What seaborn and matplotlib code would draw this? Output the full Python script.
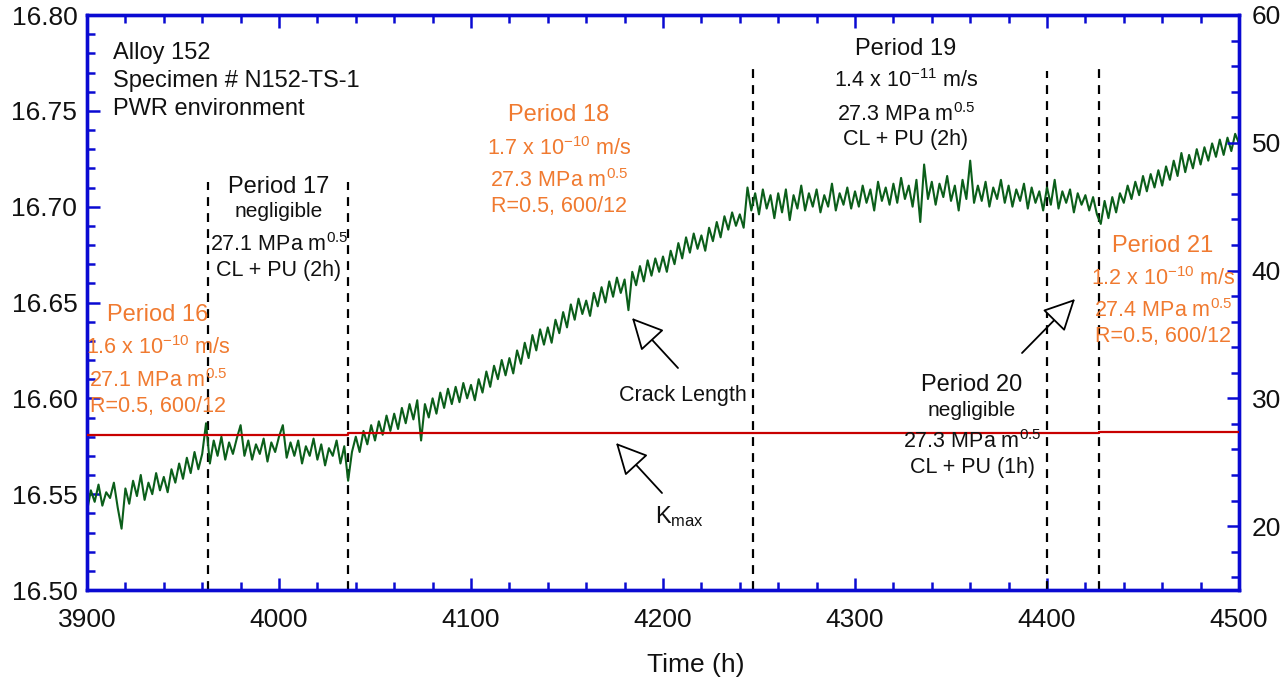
import numpy as np
import pandas as pd
import matplotlib
matplotlib.use("Agg")
import matplotlib.pyplot as plt
import seaborn as sns

# ---------------- data ----------------
time_h = list(range(3900, 4501, 2))
crack_mm = [
    16.541, 16.552, 16.546, 16.555, 16.544, 16.551, 16.548, 16.556, 16.543, 16.532,
    16.553, 16.545, 16.557, 16.549, 16.560, 16.547, 16.556, 16.550, 16.561, 16.552,
    16.559, 16.551, 16.563, 16.556, 16.566, 16.558, 16.569, 16.561, 16.572, 16.563,
    16.571, 16.587, 16.566, 16.578, 16.570, 16.580, 16.568, 16.577, 16.571, 16.579,
    16.586, 16.570, 16.578, 16.568, 16.576, 16.571, 16.579, 16.567, 16.577, 16.572,
    16.580, 16.586, 16.569, 16.577, 16.570, 16.578, 16.566, 16.575, 16.570, 16.579,
    16.568, 16.576, 16.565, 16.574, 16.570, 16.578, 16.566, 16.575, 16.557, 16.572,
    16.580, 16.572, 16.583, 16.576, 16.586, 16.578, 16.588, 16.581, 16.591, 16.583,
    16.592, 16.584, 16.595, 16.587, 16.597, 16.589, 16.599, 16.578, 16.597, 16.590,
    16.600, 16.592, 16.603, 16.595, 16.605, 16.597, 16.606, 16.598, 16.608, 16.600,
    16.607, 16.599, 16.610, 16.603, 16.614, 16.606, 16.617, 16.610, 16.620, 16.612,
    16.621, 16.613, 16.625, 16.618, 16.629, 16.621, 16.633, 16.625, 16.636, 16.628,
    16.637, 16.629, 16.641, 16.634, 16.645, 16.637, 16.649, 16.641, 16.652, 16.644,
    16.651, 16.643, 16.655, 16.648, 16.658, 16.650, 16.661, 16.653, 16.663, 16.655,
    16.662, 16.646, 16.666, 16.659, 16.669, 16.661, 16.672, 16.664, 16.673, 16.666,
    16.674, 16.666, 16.677, 16.670, 16.681, 16.673, 16.684, 16.676, 16.686, 16.678,
    16.685, 16.677, 16.689, 16.682, 16.692, 16.684, 16.695, 16.688, 16.697, 16.690,
    16.696, 16.689, 16.710, 16.698, 16.707, 16.696, 16.709, 16.699, 16.706, 16.694,
    16.707, 16.697, 16.709, 16.693, 16.706, 16.699, 16.711, 16.698, 16.707, 16.700,
    16.709, 16.697, 16.706, 16.700, 16.712, 16.698, 16.707, 16.701, 16.710, 16.699,
    16.708, 16.700, 16.711, 16.702, 16.709, 16.698, 16.713, 16.703, 16.710, 16.701,
    16.712, 16.702, 16.715, 16.704, 16.711, 16.700, 16.714, 16.692, 16.722, 16.704,
    16.713, 16.701, 16.712, 16.705, 16.716, 16.703, 16.711, 16.698, 16.714, 16.704,
    16.724, 16.702, 16.711, 16.703, 16.713, 16.700, 16.710, 16.704, 16.714, 16.702,
    16.711, 16.700, 16.709, 16.703, 16.712, 16.699, 16.710, 16.702, 16.708, 16.698,
    16.710, 16.701, 16.714, 16.699, 16.708, 16.702, 16.709, 16.697, 16.707, 16.701,
    16.706, 16.698, 16.705, 16.696, 16.691, 16.703, 16.694, 16.705, 16.697, 16.707,
    16.702, 16.711, 16.704, 16.713, 16.706, 16.716, 16.708, 16.717, 16.710, 16.719,
    16.711, 16.721, 16.714, 16.724, 16.716, 16.728, 16.718, 16.727, 16.720, 16.730,
    16.722, 16.731, 16.724, 16.733, 16.726, 16.735, 16.727, 16.736, 16.729, 16.738,
    16.733,
]
kmax_time = [3900, 3963, 4036, 4247, 4400, 4427, 4500]
kmax_val = [27.1, 27.1, 27.3, 27.3, 27.3, 27.4, 27.4]
period_bounds = [3963, 4036, 4247, 4400, 4427]
bound_tops = [16.713, 16.713, 16.773, 16.771, 16.773]

df_crack = pd.DataFrame({"Time (h)": time_h, "Crack": crack_mm})
df_k = pd.DataFrame({"Time (h)": kmax_time, "Kmax": kmax_val})

# ---------------- style ----------------
sns.set_theme(style="white")
plt.rcParams["font.family"] = ["Liberation Sans", "DejaVu Sans"]
plt.rcParams["mathtext.fontset"] = "custom"
plt.rcParams["mathtext.rm"] = "Liberation Sans"
plt.rcParams["mathtext.it"] = "Liberation Sans:italic"
plt.rcParams["mathtext.bf"] = "Liberation Sans:bold"

BLUE = "#0A0AD2"
GREEN = "#0B5E1A"
RED = "#C80000"
ORANGE = "#F07A30"

W, H = 1285, 680
fig = plt.figure(figsize=(W / 100, H / 100), dpi=100)
L, R, T, B = 87, 1239, 15, 590
ax = fig.add_axes([L / W, 1 - B / H, (R - L) / W, (B - T) / H])
ax2 = ax.twinx()

sns.lineplot(data=df_crack, x="Time (h)", y="Crack", ax=ax, color=GREEN,
             linewidth=1.5, estimator=None, sort=False, zorder=3)
sns.lineplot(data=df_k, x="Time (h)", y="Kmax", ax=ax2, color=RED,
             linewidth=1.6, estimator=None, sort=False, drawstyle="steps-post", zorder=3)

ax.set_xlim(3900, 4500)
ax.set_ylim(16.50, 16.80)
ax2.set_ylim(15, 60)
ax.set_ylabel("")
ax2.set_ylabel("")
ax.set_xlabel("")

for xb, top in zip(period_bounds, bound_tops):
    ax.plot([xb, xb], [16.50, top], color="black", linestyle=(0, (4, 3.2)), linewidth=1.6, zorder=2)

ax.set_xticks(np.arange(3900, 4501, 100))
ax.set_xticks(np.arange(3900, 4501, 20), minor=True)
ax.set_yticks(np.arange(16.50, 16.801, 0.05))
ax.set_yticks(np.arange(16.50, 16.801, 0.01), minor=True)
ax.set_yticklabels([f"{v:.2f}" for v in np.arange(16.50, 16.801, 0.05)])
ax2.set_yticks([20, 30, 40, 50, 60])
ax2.set_yticks(np.arange(16, 61, 2), minor=True)
ax2.set_yticklabels(["20", "30", "40", "50", "60"])

for a in (ax, ax2):
    for s in a.spines.values():
        s.set_color(BLUE)
        s.set_linewidth(2.4)
ax.tick_params(axis="x", which="both", direction="in", top=True, bottom=True, color=BLUE,
               labelsize=19, pad=13, labelcolor="#111111")
ax.tick_params(axis="x", which="major", length=9, width=1.8)
ax.tick_params(axis="x", which="minor", length=6, width=1.8)
ax.tick_params(axis="y", which="both", direction="in", left=True, right=False, color=BLUE,
               labelsize=19, pad=7, labelcolor="#111111")
ax.tick_params(axis="y", which="major", length=9, width=1.8)
ax.tick_params(axis="y", which="minor", length=6, width=1.8)
ax2.tick_params(axis="y", which="both", direction="in", right=True, left=False, color=BLUE,
                labelsize=19, pad=9, labelcolor="#111111")
ax2.tick_params(axis="y", which="major", length=9, width=1.8)
ax2.tick_params(axis="y", which="minor", length=6, width=1.8)

fig.text(696 / W, 1 - 665 / H, "Time (h)", ha="center", va="center", fontsize=19, color="#111111")


def ptxt(x, y, s, color="#111111", size=15.5, ha="center"):
    fig.text(x / W, 1 - y / H, s, ha=ha, va="baseline", fontsize=size, color=color, zorder=10)


# header
ptxt(113, 59, "Alloy 152", size=17, ha="left")
ptxt(113, 87, "Specimen # N152-TS-1", size=17, ha="left")
ptxt(113, 115, "PWR environment", size=17, ha="left")

# Period 16
ptxt(158, 321, "Period 16", ORANGE, 17)
ptxt(158, 354, r"1.6 x 10$^{\mathrm{-10}}$ m/s", ORANGE)
ptxt(158, 387, r"27.1 MPa m$^{\mathrm{0.5}}$", ORANGE)
ptxt(158, 412, "R=0.5, 600/12", ORANGE)
# Period 17
ptxt(279, 193, "Period 17", size=17)
ptxt(279, 217, "negligible", size=15)
ptxt(279, 251, r"27.1 MPa m$^{\mathrm{0.5}}$")
ptxt(279, 276, "CL + PU (2h)")
# Period 18
ptxt(559, 121, "Period 18", ORANGE, 17)
ptxt(559, 155, r"1.7 x 10$^{\mathrm{-10}}$ m/s", ORANGE)
ptxt(559, 187, r"27.3 MPa m$^{\mathrm{0.5}}$", ORANGE)
ptxt(559, 212, "R=0.5, 600/12", ORANGE)
# Period 19
ptxt(906, 55, "Period 19", size=17)
ptxt(906, 87, r"1.4 x 10$^{\mathrm{-11}}$ m/s")
ptxt(906, 121, r"27.3 MPa m$^{\mathrm{0.5}}$")
ptxt(906, 145, "CL + PU (2h)")
# Period 20
ptxt(972, 391, "Period 20", size=17)
ptxt(972, 416, "negligible", size=15)
ptxt(972, 448, r"27.3 MPa m$^{\mathrm{0.5}}$")
ptxt(972, 473, "CL + PU (1h)")
# Period 21
ptxt(1163, 252, "Period 21", ORANGE, 17)
ptxt(1163, 285, r"1.2 x 10$^{\mathrm{-10}}$ m/s", ORANGE)
ptxt(1163, 317, r"27.4 MPa m$^{\mathrm{0.5}}$", ORANGE)
ptxt(1163, 342, "R=0.5, 600/12", ORANGE)

# labels and arrows
ptxt(683, 401, "Crack Length")
ptxt(655, 523, r"K$_{\mathrm{max}}$", size=17, ha="left")


def parrow(x0, y0, x1, y1):
    ax.annotate("", xy=((x1 - L) / (R - L), (B - y1) / (B - T)), xycoords="axes fraction",
                xytext=((x0 - L) / (R - L), (B - y0) / (B - T)), textcoords="axes fraction",
                arrowprops=dict(arrowstyle="-|>,head_length=0.9,head_width=0.45", fc="white",
                                ec="black", lw=1.3, mutation_scale=22, shrinkA=0, shrinkB=0),
                zorder=12)


parrow(678, 368, 632, 318)
parrow(662, 493, 616, 443)
parrow(1022, 353, 1075, 299)

fig.savefig("out.png", dpi=100)
